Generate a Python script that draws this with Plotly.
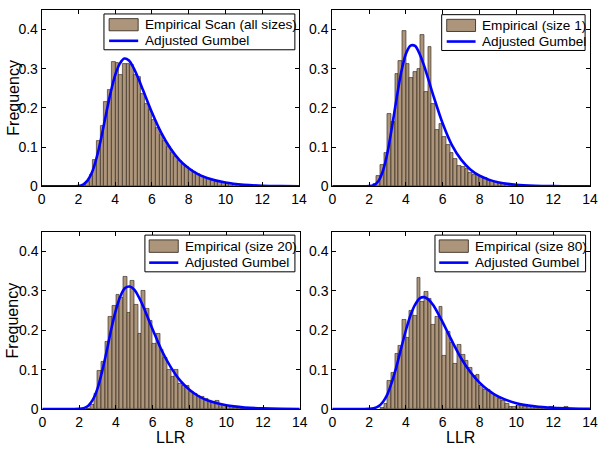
import plotly.graph_objects as go

# ---------------- data ----------------
BIN_WIDTH = 0.2
X_TICKS = [0, 2, 4, 6, 8, 10, 12, 14]
Y_TICKS = [0, 0.1, 0.2, 0.3, 0.4]
Y_TICK_LABELS = ["0", "0.1", "0.2", "0.3", "0.4"]

LEGEND_BAR_LABELS = ["Empirical Scan (all sizes)", "Empirical (size 1)",
                     "Empirical (size 20)", "Empirical (size 80)"]
LEGEND_LINE_LABEL = "Adjusted Gumbel"

# histogram bars: first bin centre and bar heights (bin width 0.2)
P1_FIRST_CENTER = 2.3
P1_FREQ = [0.003, 0.01, 0.03, 0.068, 0.117, 0.153, 0.215, 0.245, 0.318, 0.315,
           0.283, 0.313, 0.313, 0.31, 0.285, 0.278, 0.235, 0.21, 0.195, 0.17,
           0.15, 0.13, 0.115, 0.10, 0.085, 0.075, 0.066, 0.058, 0.05, 0.043,
           0.037, 0.031, 0.026, 0.022, 0.018, 0.015, 0.012, 0.01, 0.008, 0.006,
           0.005, 0.004, 0.003, 0.002, 0.002, 0.001]

P2_FIRST_CENTER = 2.3
P2_FREQ = [0.005, 0.027, 0.055, 0.085, 0.185, 0.165, 0.288, 0.32, 0.396, 0.313,
           0.277, 0.293, 0.30, 0.385, 0.24, 0.355, 0.21, 0.145, 0.16, 0.125,
           0.105, 0.085, 0.07, 0.053, 0.05, 0.045, 0.035, 0.03, 0.03, 0.025,
           0.022, 0.015, 0.013, 0.01, 0.008, 0.006, 0.005, 0.003, 0.003, 0.002,
           0.001]

P3_FIRST_CENTER = 2.5
P3_FREQ = [0.002, 0.01, 0.038, 0.097, 0.12, 0.17, 0.235, 0.262, 0.29, 0.282,
           0.335, 0.245, 0.325, 0.265, 0.19, 0.30, 0.255, 0.225, 0.165, 0.19,
           0.15, 0.13, 0.10, 0.082, 0.10, 0.063, 0.06, 0.058, 0.045, 0.04,
           0.035, 0.03, 0.025, 0.02, 0.018, 0.02, 0.012, 0.01, 0.008, 0.006,
           0.004, 0.003, 0.002, 0.002, 0.001]

P4_FIRST_CENTER = 2.7
P4_FREQ = [0.003, 0.013, 0.073, 0.091, 0.14, 0.16, 0.227, 0.18, 0.25, 0.237,
           0.332, 0.272, 0.298, 0.28, 0.215, 0.235, 0.26, 0.135, 0.195, 0.168,
           0.115, 0.162, 0.139, 0.122, 0.105, 0.084, 0.088, 0.059, 0.05, 0.049,
           0.038, 0.034, 0.025, 0.021, 0.013, 0.006, 0.006, 0.008, 0.008, 0.006,
           0.006, 0.005, 0.004, 0.003, 0.003, 0.003, 0.007, 0.002, 0.001, 0.001,
           0.007, 0.001, 0.0, 0.0, 0.001]

# fitted curves
CURVE_X = [0, 1, 1.5, 2, 2.25, 2.5, 2.75, 3, 3.25, 3.5, 3.75, 4, 4.25, 4.5, 4.75,
           5, 5.25, 5.5, 6, 6.5, 7, 7.5, 8, 8.5, 9, 10, 11, 12, 13, 14]
P1_CURVE = [0, 0, 0, 0.001, 0.0045, 0.015, 0.037, 0.075, 0.126, 0.184, 0.239,
            0.284, 0.313, 0.326, 0.321, 0.302, 0.276, 0.247, 0.188, 0.137, 0.097,
            0.067, 0.046, 0.031, 0.021, 0.0095, 0.0038, 0.0014, 0.0005, 0.0002]
P2_CURVE = [0, 0, 0, 0.0005, 0.003, 0.013, 0.039, 0.086, 0.153, 0.226, 0.292,
            0.338, 0.359, 0.358, 0.337, 0.306, 0.268, 0.230, 0.160, 0.105, 0.068,
            0.043, 0.027, 0.017, 0.0103, 0.0038, 0.0014, 0.0005, 0.0002, 0.0001]
P3_CURVE = [0, 0, 0, 0.0004, 0.0023, 0.0086, 0.024, 0.052, 0.095, 0.147, 0.203,
            0.251, 0.287, 0.307, 0.311, 0.303, 0.284, 0.259, 0.202, 0.148, 0.105,
            0.072, 0.049, 0.0325, 0.0216, 0.0095, 0.004, 0.0017, 0.0007, 0.0003]
P4_CURVE = [0, 0, 0, 0.0004, 0.002, 0.0067, 0.018, 0.038, 0.070, 0.110, 0.156,
            0.200, 0.238, 0.265, 0.281, 0.284, 0.277, 0.263, 0.220, 0.173, 0.129,
            0.094, 0.067, 0.047, 0.032, 0.015, 0.0072, 0.0033, 0.0015, 0.0007]

# ---------------- styling ----------------
BAR_COLOR = "rgb(172,149,122)"
LINE_COLOR = "#0000FF"
FONT = "Liberation Sans, Arial, Helvetica, sans-serif"

panels = [
    (P1_FIRST_CENTER, P1_FREQ, P1_CURVE, LEGEND_BAR_LABELS[0]),
    (P2_FIRST_CENTER, P2_FREQ, P2_CURVE, LEGEND_BAR_LABELS[1]),
    (P3_FIRST_CENTER, P3_FREQ, P3_CURVE, LEGEND_BAR_LABELS[2]),
    (P4_FIRST_CENTER, P4_FREQ, P4_CURVE, LEGEND_BAR_LABELS[3]),
]

x_domains = [[0.0695, 0.4983], [0.5538, 0.9833], [0.0705, 0.4997], [0.5538, 0.9833]]
y_domains = [[0.586, 0.978], [0.586, 0.978], [0.091, 0.485], [0.091, 0.485]]

# legend geometry in axis-domain coordinates: box x0,x1,y0,y1 ; swatch x0,x1 ; text x
legend_geo = [
    dict(box=(0.242, 0.984, 0.774, 0.977), sw=(0.262, 0.375), tx=0.392),
    dict(box=(0.4245, 0.981, 0.770, 0.973), sw=(0.444, 0.556), tx=0.572),
    dict(box=(0.3985, 0.981, 0.774, 0.981), sw=(0.415, 0.528), tx=0.545),
    dict(box=(0.3985, 0.983, 0.774, 0.981), sw=(0.415, 0.528), tx=0.545),
]

fig = go.Figure()
shapes = []
annotations = []
layout = dict(
    width=600, height=450,
    margin=dict(l=0, r=0, t=0, b=0, autoexpand=False),
    paper_bgcolor="white", plot_bgcolor="white",
    showlegend=False, bargap=0,
    font=dict(family=FONT, size=14, color="black"),
)

for i, (c0, freq, curve, label) in enumerate(panels):
    n = i + 1
    sx = "" if n == 1 else str(n)
    centers = [round(c0 + BIN_WIDTH * k, 3) for k in range(len(freq))]
    fig.add_trace(go.Bar(
        x=centers, y=freq, width=BIN_WIDTH,
        marker=dict(color=BAR_COLOR, line=dict(color="rgb(40,30,20)", width=0.6)),
        xaxis="x" + sx, yaxis="y" + sx, name=label,
    ))
    fig.add_trace(go.Scatter(
        x=CURVE_X, y=curve, mode="lines",
        line=dict(color=LINE_COLOR, width=2.6, shape="spline", smoothing=0.8),
        xaxis="x" + sx, yaxis="y" + sx, name=LEGEND_LINE_LABEL,
    ))
    layout["xaxis" + sx] = dict(
        domain=x_domains[i], anchor="y" + sx, range=[0, 14],
        tickvals=X_TICKS, ticks="inside", ticklen=4, tickcolor="black",
        showline=True, linecolor="black", linewidth=1, mirror="ticks",
        showgrid=False, zeroline=False, tickfont=dict(size=14, family=FONT),
        fixedrange=True, automargin=False,
    )
    layout["yaxis" + sx] = dict(
        domain=y_domains[i], anchor="x" + sx, range=[0, 0.45],
        tickvals=Y_TICKS, ticktext=Y_TICK_LABELS, ticks="inside", ticklen=4,
        tickcolor="black", showline=True, linecolor="black", linewidth=1,
        mirror="ticks", showgrid=False, zeroline=False,
        tickfont=dict(size=14, family=FONT), fixedrange=True, automargin=False,
    )
    # manual MATLAB-style legend
    g = legend_geo[i]
    xr = ("x" if n == 1 else "x" + str(n)) + " domain"
    yr = ("y" if n == 1 else "y" + str(n)) + " domain"
    bx0, bx1, by0, by1 = g["box"]
    h = by1 - by0
    shapes.append(dict(type="rect", xref=xr, yref=yr, x0=bx0, x1=bx1, y0=by0, y1=by1,
                       fillcolor="white", line=dict(color="black", width=1), layer="above"))
    sx0, sx1 = g["sw"]
    row1 = by1 - h * 0.30
    row2 = by1 - h * 0.75
    shapes.append(dict(type="rect", xref=xr, yref=yr, x0=sx0, x1=sx1,
                       y0=row1 - h * 0.17, y1=row1 + h * 0.17,
                       fillcolor=BAR_COLOR, line=dict(color="rgb(40,30,20)", width=0.8),
                       layer="above"))
    shapes.append(dict(type="line", xref=xr, yref=yr, x0=sx0, x1=sx1, y0=row2, y1=row2,
                       line=dict(color=LINE_COLOR, width=2.6), layer="above"))
    annotations.append(dict(xref=xr, yref=yr, x=g["tx"], y=row1, text=label,
                            showarrow=False, xanchor="left", yanchor="middle",
                            font=dict(size=13.6, family=FONT)))
    annotations.append(dict(xref=xr, yref=yr, x=g["tx"], y=row2, text=LEGEND_LINE_LABEL,
                            showarrow=False, xanchor="left", yanchor="middle",
                            font=dict(size=13.6, family=FONT)))

# axis titles
for yc in [0.782, 0.287]:
    annotations.append(dict(xref="paper", yref="paper", x=0.021, y=yc, text="Frequency",
                            textangle=-90, showarrow=False, xanchor="center",
                            yanchor="middle", font=dict(size=16, family=FONT)))
for xc in [0.285, 0.768]:
    annotations.append(dict(xref="paper", yref="paper", x=xc, y=0.028, text="LLR",
                            showarrow=False, xanchor="center", yanchor="middle",
                            font=dict(size=16, family=FONT)))

layout["shapes"] = shapes
layout["annotations"] = annotations
fig.update_layout(**layout)
fig.write_html(
    "out.html",
    config={"displayModeBar": False},
    post_script="document.body.style.margin='0';document.body.style.overflow='hidden';",
)
